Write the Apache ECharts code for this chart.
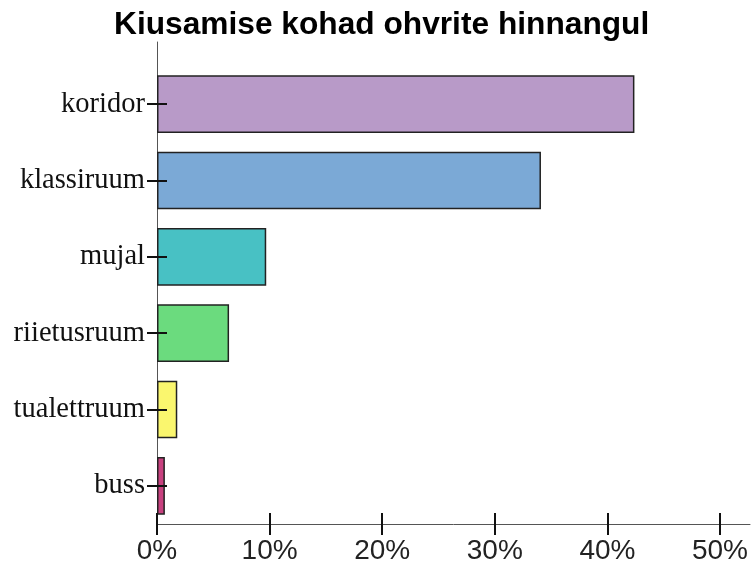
<!DOCTYPE html>
<html>
<head>
<meta charset="utf-8">
<script src="https://cdn.jsdelivr.net/npm/echarts@6/dist/echarts.min.js"></script>
<style>html,body{margin:0;padding:0;background:#fff}#c{width:752px;height:569px}</style>
</head>
<body>
<div id="c"></div>
<script>
const titleText = 'Kiusamise kohad ohvrite hinnangul';
const categories = ['koridor', 'klassiruum', 'mujal', 'riietusruum', 'tualettruum', 'buss'];
const values = [42.4, 34.1, 9.7, 6.4, 1.8, 0.7];
const barColors = ['#B89AC8', '#7BA9D6', '#48C1C4', '#6BDB7E', '#FAF66E', '#C8417F'];
const xTicks = [0, 10, 20, 30, 40, 50];

const chart = echarts.init(document.getElementById('c'), null, {renderer: 'canvas'});
chart.setOption({
  animation: false,
  backgroundColor: '#fff',
  title: {
    text: titleText,
    left: 109,
    top: 4,
    textStyle: {fontFamily: 'Liberation Sans, Arial, sans-serif', fontWeight: 'bold', fontSize: 31.7, color: '#000'}
  },
  grid: [
    {left: 157, right: 32, top: 66, bottom: 45, containLabel: false},
    {left: 157, right: 2, top: 42, bottom: 45, containLabel: false}
  ],
  xAxis: [
    {
      type: 'value', gridIndex: 0, min: xTicks[0], max: xTicks[xTicks.length - 1], interval: 10,
      offset: -11, z: 5,
      axisLine: {show: false},
      axisTick: {show: true, length: 22, lineStyle: {color: '#111', width: 2}},
      splitLine: {show: false},
      axisLabel: {
        formatter: v => v + '%', margin: 24,
        fontFamily: 'Liberation Sans, Arial, sans-serif', fontSize: 28, color: '#222'
      }
    },
    {
      type: 'value', gridIndex: 1, min: 0, max: 1, show: true,
      axisLine: {show: true, onZero: false, lineStyle: {color: '#555', width: 1}},
      axisTick: {show: false}, axisLabel: {show: false}, splitLine: {show: false}
    }
  ],
  yAxis: [
    {
      type: 'category', gridIndex: 0, data: categories, inverse: true,
      offset: -10, z: 5,
      axisLine: {show: false},
      axisTick: {show: true, alignWithLabel: true, length: 20, lineStyle: {color: '#111', width: 2}},
      axisLabel: {
        margin: 22, padding: [10, 0, 0, 0],
        fontFamily: 'Liberation Serif, Times New Roman, serif', fontSize: 28.5, color: '#111'
      }
    },
    {
      type: 'value', gridIndex: 1, min: 0, max: 1,
      axisLine: {show: true, onZero: false, lineStyle: {color: '#555', width: 1}},
      axisTick: {show: false}, axisLabel: {show: false}, splitLine: {show: false}
    }
  ],
  series: [{
    type: 'bar',
    xAxisIndex: 0, yAxisIndex: 0,
    barCategoryGap: '24.5%',
    data: values.map((v, i) => ({
      value: v,
      itemStyle: {color: barColors[i], borderColor: '#222', borderWidth: 1.5}
    })),
    z: 1
  }]
});
</script>
</body>
</html>
